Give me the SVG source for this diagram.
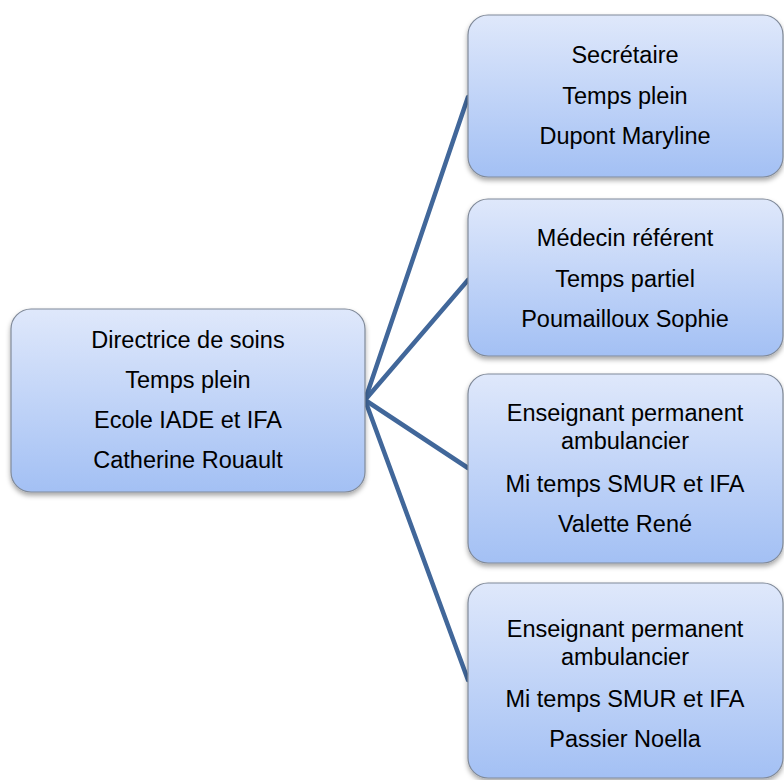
<svg xmlns="http://www.w3.org/2000/svg" width="784" height="780" viewBox="0 0 784 780">
<defs>
<linearGradient id="g" x1="0" y1="0" x2="0" y2="1">
<stop offset="0" stop-color="#dfe8fb"/>
<stop offset="1" stop-color="#a3c0f4"/>
</linearGradient>
<filter id="sh" x="-10%" y="-10%" width="120%" height="130%">
<feDropShadow dx="0" dy="3" stdDeviation="2.5" flood-color="#000" flood-opacity="0.35"/>
</filter>
</defs>
<style>
.box{fill:url(#g);stroke:#808a99;stroke-width:1.2;filter:url(#sh)}
text{font-family:"Liberation Sans",Arial,sans-serif;font-size:23.5px;fill:#000;text-anchor:middle}
.c{stroke:#41679a;stroke-width:4.5;fill:none;stroke-linecap:round}
</style>
<g id="connectors">
<line class="c" x1="365" y1="400" x2="468" y2="97"/>
<line class="c" x1="365" y1="400" x2="468" y2="280"/>
<line class="c" x1="365" y1="400" x2="468" y2="468"/>
<line class="c" x1="365" y1="400" x2="468" y2="680"/>
</g>
<g id="directrice">
<rect class="box" x="11" y="309" width="354" height="183" rx="20"/>
<text x="188" y="348">Directrice de soins</text>
<text x="188" y="388">Temps plein</text>
<text x="188" y="428">Ecole IADE et IFA</text>
<text x="188" y="468">Catherine Rouault</text>
</g>
<g id="secretaire">
<rect class="box" x="468" y="15" width="315" height="162" rx="20"/>
<text x="625" y="63">Secrétaire</text>
<text x="625" y="104">Temps plein</text>
<text x="625" y="144">Dupont Maryline</text>
</g>
<g id="medecin">
<rect class="box" x="468" y="199" width="315" height="157" rx="20"/>
<text x="625" y="246">Médecin référent</text>
<text x="625" y="287">Temps partiel</text>
<text x="625" y="327">Poumailloux Sophie</text>
</g>
<g id="valette">
<rect class="box" x="468" y="374" width="315" height="189" rx="20"/>
<text x="625" y="421">Enseignant permanent</text>
<text x="625" y="449">ambulancier</text>
<text x="625" y="492">Mi temps SMUR et IFA</text>
<text x="625" y="532">Valette René</text>
</g>
<g id="passier">
<rect class="box" x="468" y="583" width="315" height="195" rx="20"/>
<text x="625" y="637">Enseignant permanent</text>
<text x="625" y="665">ambulancier</text>
<text x="625" y="707">Mi temps SMUR et IFA</text>
<text x="625" y="747">Passier Noella</text>
</g>
</svg>
